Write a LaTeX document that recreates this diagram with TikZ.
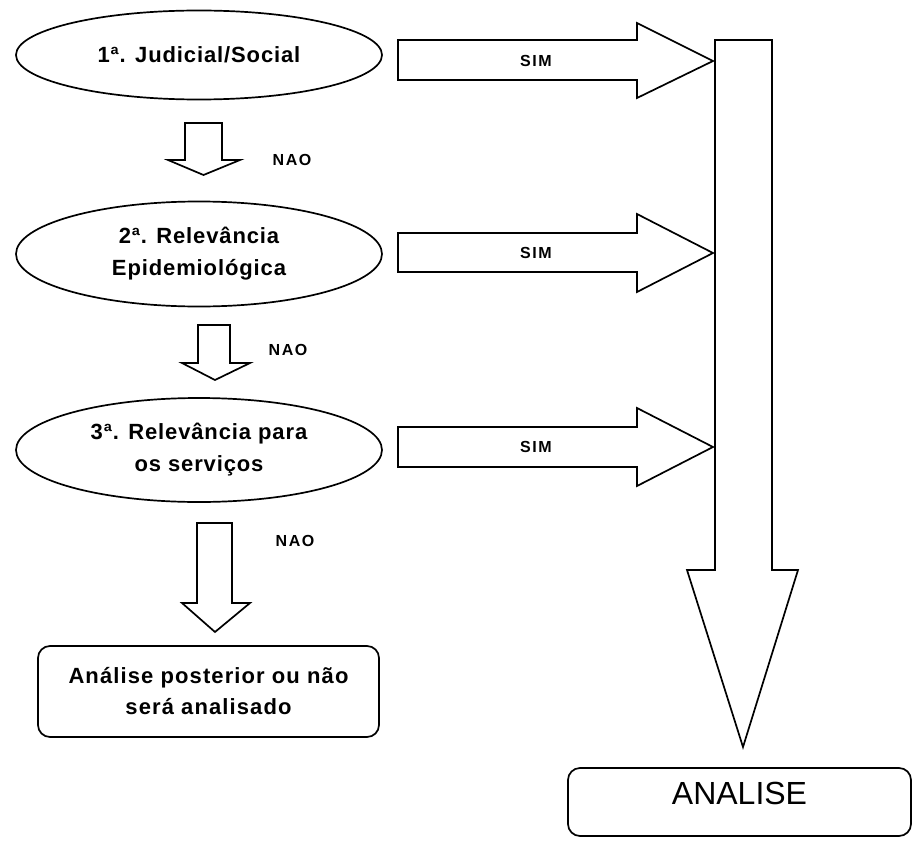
\documentclass[tikz,border=0pt]{standalone}
\usepackage{fontspec}
\setmainfont{Liberation Sans}
\newfontfamily\spacedA[LetterSpace=4]{Liberation Sans}
\newfontfamily\spacedB[LetterSpace=5]{Liberation Sans}
\newfontfamily\spacedC[LetterSpace=10]{Liberation Sans}
\usetikzlibrary{shapes.geometric}
\begin{document}
\begin{tikzpicture}[x=1pt,y=-1pt,
  outline/.style={draw=black, line width=1.7pt, fill=white, line join=miter},
  decision/.style={outline, ellipse, minimum width=366pt, minimum height=89pt, inner sep=0pt,
    align=center, font=\spacedA\bfseries\fontsize{22}{32}\selectfont},
  endbox/.style={outline, rounded corners=12pt, inner sep=0pt, align=center},
  blockarrow/.style={outline},
  smalllabel/.style={font=\spacedC\bfseries\fontsize{16}{18}\selectfont, inner sep=0pt}
]
\useasboundingbox (0,0) rectangle (920,840);

% decision ellipses
\node[decision] (q1) at (199,55) {1ª. Judicial/Social};
\node[decision, minimum height=105pt] (q2) at (199,254) {2ª. Relevância\\Epidemiológica};
\node[decision, minimum height=104pt] (q3) at (199,450) {3ª. Relevância para\\os serviços};

% final boxes
\node[endbox, minimum width=341pt, minimum height=91pt,
      font=\spacedB\bfseries\fontsize{22}{31}\selectfont] (later) at (208.5,691.5)
      {Análise posterior ou não\\será analisado};
\node[endbox, minimum width=343pt, minimum height=68pt, text height=23pt, text depth=18pt,
      font=\fontsize{32}{36}\selectfont] (analise) at (739.5,802) {ANALISE};

% big vertical arrow into ANALISE
\coordinate (bigtip) at (743,747);
\draw[blockarrow] (715,40) -- (772,40) -- (772,570) -- (798,570) -- (bigtip)
  -- (687,570) -- (715,570) -- cycle;

% SIM arrows
\draw[blockarrow] (398,40) -- (637,40) -- (637,23) -- (713,61) -- (637,98) -- (637,80) -- (398,80) -- cycle;
\draw[blockarrow] (398,233) -- (637,233) -- (637,214) -- (713,253) -- (637,292) -- (637,272) -- (398,272) -- cycle;
\draw[blockarrow] (398,427) -- (637,427) -- (637,408) -- (713,447) -- (637,486) -- (637,467) -- (398,467) -- cycle;
\node[smalllabel] (sim1) at (536,61) {SIM};
\node[smalllabel] (sim2) at (536,253) {SIM};
\node[smalllabel] (sim3) at (536,447) {SIM};

% NAO arrows
\draw[blockarrow] (185,123) -- (222,123) -- (222,160) -- (240,160) -- (203.5,175) -- (168,160) -- (185,160) -- cycle;
\draw[blockarrow] (198,325) -- (230,325) -- (230,363) -- (250,363) -- (215,380) -- (182,363) -- (198,363) -- cycle;
\draw[blockarrow] (197,523) -- (232,523) -- (232,603) -- (250,603) -- (215,632) -- (182,603) -- (197,603) -- cycle;
\node[smalllabel] (nao1) at (292,160) {NAO};
\node[smalllabel] (nao2) at (288,350) {NAO};
\node[smalllabel] (nao3) at (295,541) {NAO};
\end{tikzpicture}
\end{document}
